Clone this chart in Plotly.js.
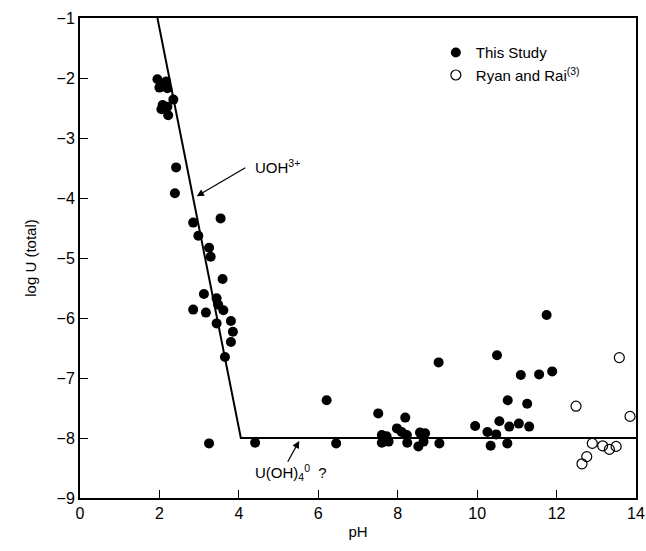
<!DOCTYPE html>
<html>
<head>
<meta charset="utf-8">
<script src="https://cdn.plot.ly/plotly-3.0.1.min.js"></script>
<style>html,body{margin:0;padding:0;background:#fff;}#chart{width:646px;height:551px;}</style>
</head>
<body>
<div id="chart"></div>
<script>
// This Study (filled circles)
var studyPH = [1.95, 2.06, 2.17, 2.00, 2.20, 2.35, 2.08, 2.05, 2.20, 2.22,
  2.42, 2.39, 2.85, 3.54, 2.98, 3.25, 3.29, 3.59, 3.12, 3.44,
  2.85, 3.17, 3.61, 3.48, 3.80, 3.44, 3.85, 3.80, 3.65, 3.25,
  4.41, 6.21, 6.45, 7.51, 8.19, 9.03, 9.95, 7.60, 7.72, 7.60,
  7.77, 7.98, 8.10, 8.23, 8.24, 8.56, 8.69, 8.52, 8.65, 9.05,
  11.75, 10.50, 11.10, 11.56, 11.89, 10.77, 11.26, 10.56, 10.81, 11.05,
  11.31, 10.26, 10.48, 10.34, 10.76];
var studyLogU = [-2.02, -2.12, -2.06, -2.16, -2.17, -2.36, -2.45, -2.52, -2.48, -2.62,
  -3.49, -3.92, -4.41, -4.34, -4.63, -4.83, -4.98, -5.35, -5.60, -5.67,
  -5.86, -5.91, -5.87, -5.78, -6.05, -6.09, -6.23, -6.40, -6.65, -8.09,
  -8.08, -7.37, -8.09, -7.59, -7.66, -6.74, -7.80, -7.95, -7.97, -8.08,
  -8.06, -7.84, -7.90, -7.95, -8.08, -7.91, -7.92, -8.14, -8.06, -8.09,
  -5.95, -6.62, -6.95, -6.94, -6.89, -7.37, -7.43, -7.72, -7.81, -7.76,
  -7.81, -7.90, -7.94, -8.13, -8.09];

// Ryan and Rai (open circles)
var ryanPH = [13.58, 12.49, 13.85, 12.90, 13.16, 13.33, 13.50, 12.76, 12.64];
var ryanLogU = [-6.66, -7.47, -7.64, -8.09, -8.13, -8.19, -8.14, -8.31, -8.43];

// Model line
var modelPH = [1.95, 4.05, 14];
var modelLogU = [-1, -8, -8];

var xTicks = [0, 2, 4, 6, 8, 10, 12, 14];
var yTicks = [-9, -8, -7, -6, -5, -4, -3, -2, -1];

var FONT = 'Liberation Sans, Arial, Helvetica, sans-serif';

var traces = [
  {x: modelPH, y: modelLogU, mode: 'lines', line: {color: '#000', width: 2}, showlegend: false, hoverinfo: 'skip'},
  {x: studyPH, y: studyLogU, mode: 'markers', name: 'This Study',
   marker: {symbol: 'circle', size: 10, color: '#000', line: {width: 0}}},
  {x: ryanPH, y: ryanLogU, mode: 'markers', name: 'Ryan and Rai<sup>(3)</sup>',
   marker: {symbol: 'circle-open', size: 10, color: '#000', line: {width: 1.2, color: '#000'}}}
];

var layout = {
  width: 646, height: 551,
  margin: {l: 80, r: 10, t: 18, b: 53},
  paper_bgcolor: '#fff', plot_bgcolor: '#fff',
  font: {family: FONT, size: 16, color: '#000'},
  showlegend: true,
  legend: {x: 0.64, y: 0.962, xanchor: 'left', yanchor: 'top', bgcolor: 'rgba(0,0,0,0)',
           font: {family: FONT, size: 15, color: '#000'}, tracegroupgap: 0},
  xaxis: {
    range: [0, 14], tickvals: xTicks, ticks: 'inside', ticklen: 8, tickwidth: 1, tickcolor: '#000',
    showline: true, linewidth: 2, linecolor: '#000', mirror: true, showgrid: false, zeroline: false,
    title: {text: 'pH', font: {family: FONT, size: 15}, standoff: 5},
    tickfont: {family: FONT, size: 16}
  },
  yaxis: {
    range: [-9, -1], tickvals: yTicks, ticks: 'inside', ticklen: 8, tickwidth: 1, tickcolor: '#000',
    showline: true, linewidth: 2, linecolor: '#000', mirror: true, showgrid: false, zeroline: false,
    title: {text: 'log U (total)', font: {family: FONT, size: 15}, standoff: 16},
    tickfont: {family: FONT, size: 16}
  },
  annotations: [
    {x: 2.94, y: -3.97, ax: 4.2, ay: -3.48, axref: 'x', ayref: 'y', xref: 'x', yref: 'y',
     text: '', showarrow: true, arrowhead: 2, arrowsize: 1.2, arrowwidth: 1.2, arrowcolor: '#000'},
    {x: 4.36, y: -3.48, xref: 'x', yref: 'y', text: 'UOH<sup>3+</sup>', showarrow: false,
     xanchor: 'left', yanchor: 'middle', font: {family: FONT, size: 15, color: '#000'}},
    {x: 5.52, y: -8.05, ax: 5.21, ay: -8.42, axref: 'x', ayref: 'y', xref: 'x', yref: 'y',
     text: '', showarrow: true, arrowhead: 2, arrowsize: 1.2, arrowwidth: 1.2, arrowcolor: '#000'},
    {x: 4.36, y: -8.57, xref: 'x', yref: 'y', text: 'U(OH)<sub>4</sub><sup>0</sup>  ?', showarrow: false,
     xanchor: 'left', yanchor: 'middle', font: {family: FONT, size: 15, color: '#000'}}
  ]
};

Plotly.newPlot('chart', traces, layout, {displayModeBar: false, staticPlot: true});
</script>
</body>
</html>
